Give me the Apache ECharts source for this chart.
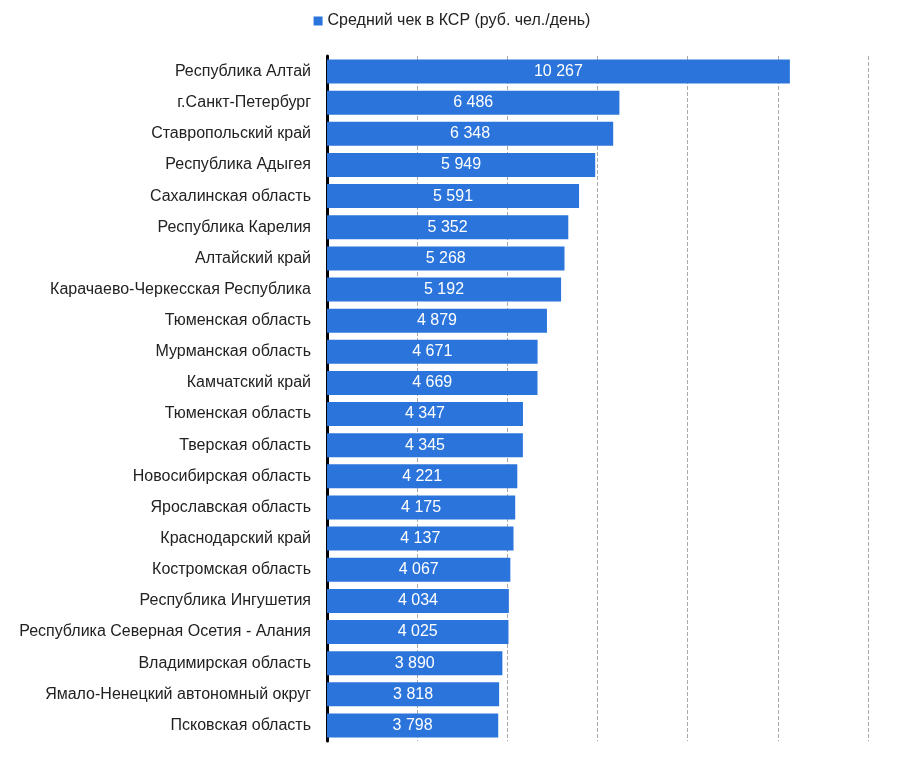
<!DOCTYPE html>
<html><head><meta charset="utf-8">
<script src="https://cdn.jsdelivr.net/npm/echarts@6/dist/echarts.min.js"></script>
<style>html,body{margin:0;padding:0;background:#fff}#c{width:904px;height:765px}</style>
</head><body><div id="c"></div>
<script>
const categories = ["Республика Алтай","г.Санкт-Петербург","Ставропольский край","Республика Адыгея","Сахалинская область","Республика Карелия","Алтайский край","Карачаево-Черкесская Республика","Тюменская область","Мурманская область","Камчатский край","Тюменская область ","Тверская область","Новосибирская область","Ярославская область","Краснодарский край","Костромская область","Республика Ингушетия","Республика Северная Осетия - Алания","Владимирская область","Ямало-Ненецкий автономный округ","Псковская область"];
const values = [10267,6486,6348,5949,5591,5352,5268,5192,4879,4671,4669,4347,4345,4221,4175,4137,4067,4034,4025,3890,3818,3798];
const seriesName = "Средний чек в КСР (руб. чел./день)";
const font = "'Liberation Sans Narrow','Arial Narrow','Liberation Sans',sans-serif";
const chart = echarts.init(document.getElementById('c'));
chart.setOption({
  animation:false,
  legend:{top:8,left:'center',itemWidth:9,itemHeight:9,icon:'rect',itemGap:5,
    textStyle:{fontFamily:font,fontSize:16,color:'#222'}},
  grid:{left:327,right:36,top:56,bottom:24},
  xAxis:{type:'value',min:0,max:12000,interval:2000,axisLabel:{show:false},
    axisLine:{show:false},axisTick:{show:false},
    splitLine:{show:true,lineStyle:{type:'dashed',color:'#aaa'}}},
  yAxis:{type:'category',inverse:true,data:categories,
    axisLine:{show:true,lineStyle:{color:'#000',width:3}},axisTick:{show:false},
    axisLabel:{fontFamily:font,fontSize:16,color:'#222',margin:16,formatter:v=>v.trim()}},
  series:[{name:seriesName,type:'bar',data:values,barWidth:24,
    itemStyle:{color:'#2a74db'},
    label:{show:true,position:'inside',color:'#fff',fontFamily:font,fontSize:16,
      formatter:p=>p.value.toString().replace(/\B(?=(\d{3})+(?!\d))/g,' ')}}]
});
</script></body></html>
